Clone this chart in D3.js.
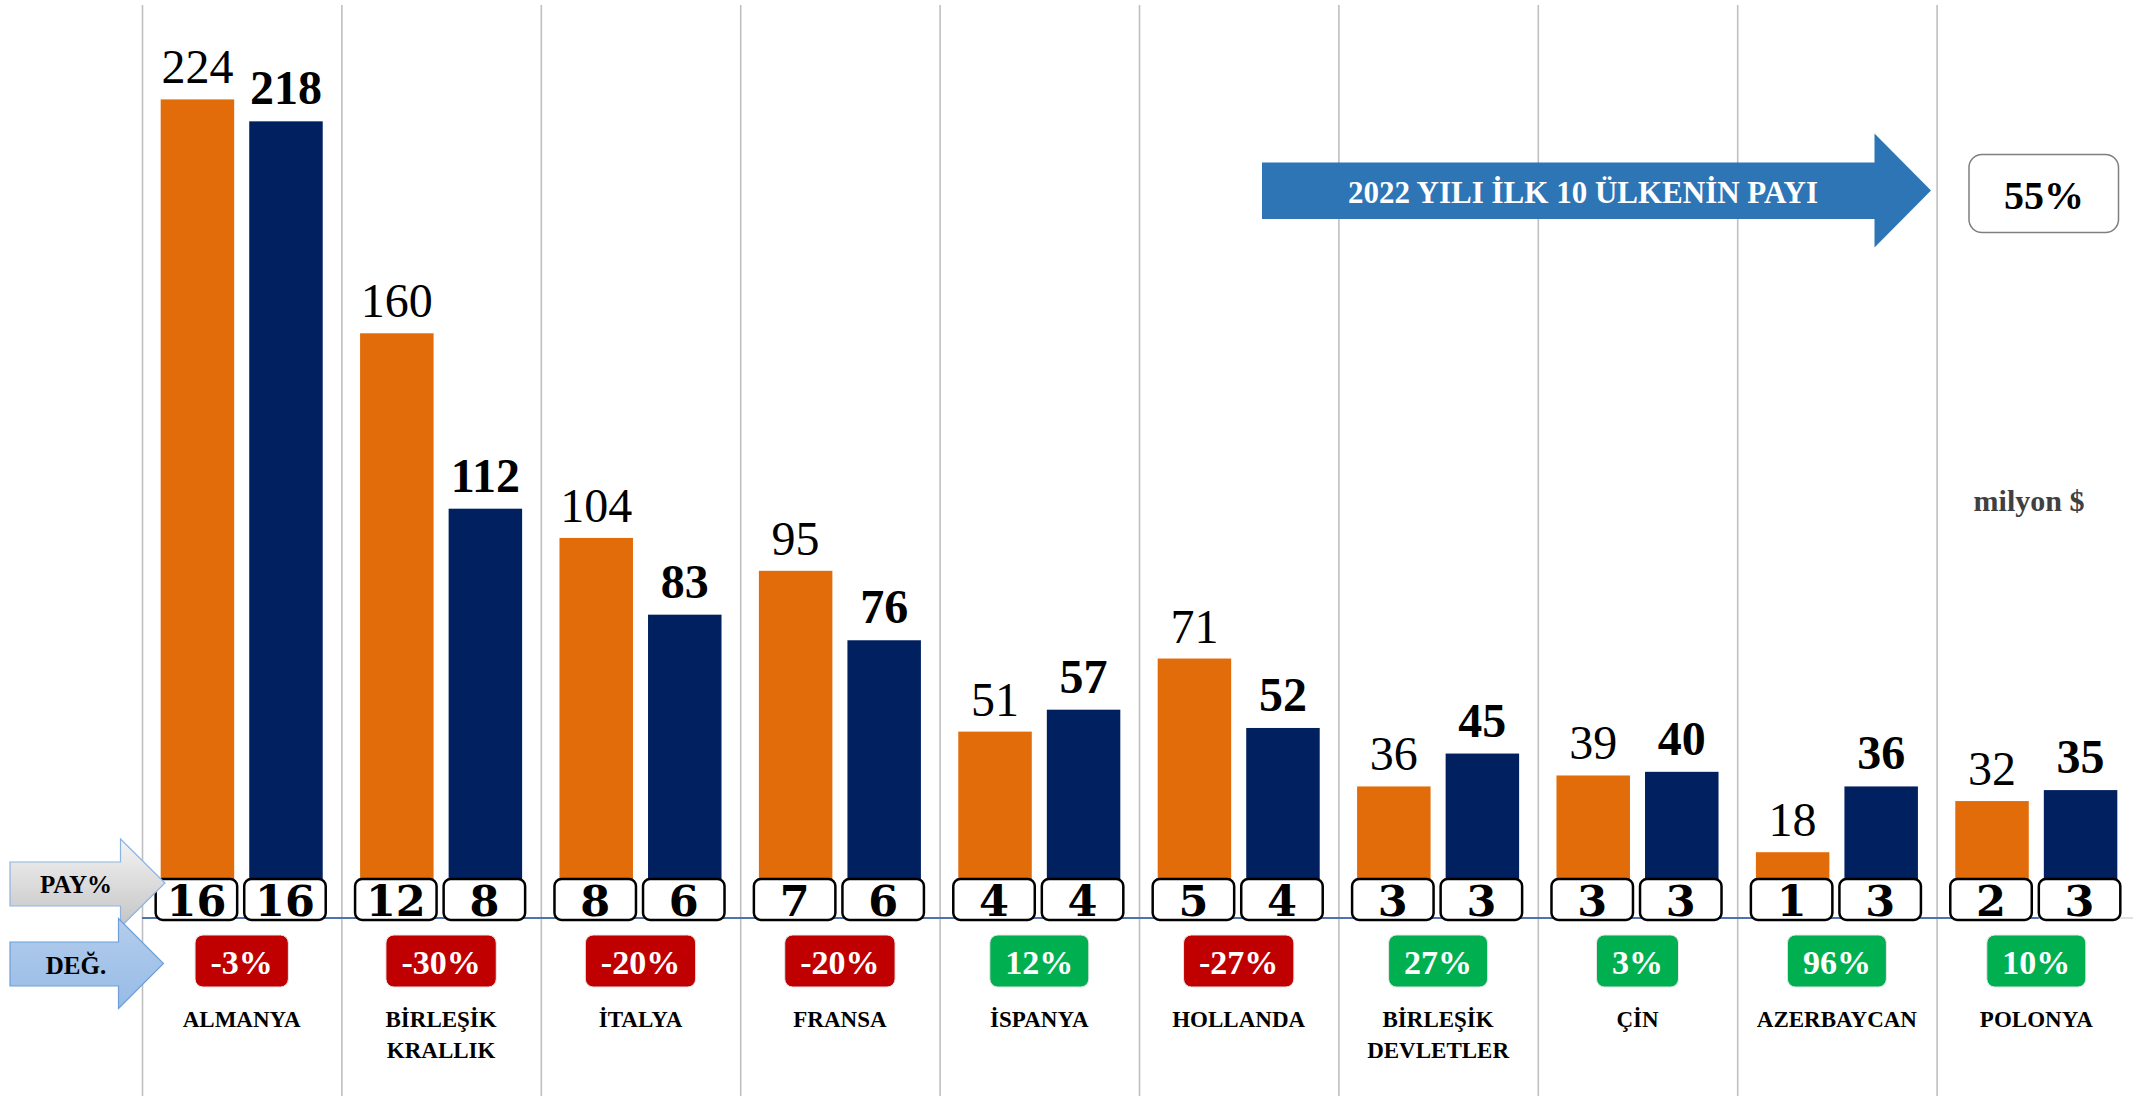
<!DOCTYPE html>
<html>
<head>
<meta charset="utf-8">
<script src="https://cdn.jsdelivr.net/npm/d3@7"></script>
<style>
  body { margin: 0; background: #fff; }
  svg { display: block; }
  text { font-family: "Liberation Serif", "Times New Roman", serif; }
</style>
</head>
<body>
<svg id="chart" width="2133" height="1096"></svg>
<script>
// data (milyon $)
var countries = ["ALMANYA", "BİRLEŞİK\nKRALLIK", "İTALYA", "FRANSA", "İSPANYA", "HOLLANDA", "BİRLEŞİK\nDEVLETLER", "ÇİN", "AZERBAYCAN", "POLONYA"];
var values2021 = [224, 160, 104, 95, 51, 71, 36, 39, 18, 32];
var values2022 = [218, 112, 83, 76, 57, 52, 45, 40, 36, 35];
var share2021 = [16, 12, 8, 7, 4, 5, 3, 3, 1, 2];
var share2022 = [16, 8, 6, 6, 4, 4, 3, 3, 3, 3];
var changePct = [-3, -30, -20, -20, 12, -27, 27, 3, 96, 10];
var top10Share = "55%";
var bannerText = "2022 YILI İLK 10 ÜLKENİN PAYI";
var unitText = "milyon $";

var W = 2133, H = 1096;
var baseY = 918;

var svg = d3.select("#chart");

var rows = countries.map(function(c, i){
	return {country: c, v21: values2021[i], v22: values2022[i], s21: share2021[i], s22: share2022[i], chg: changePct[i]};
});

var x = d3.scaleBand()
	.domain(countries)
	.range([142, 2136])
	.paddingInner(0)
	.paddingOuter(0);

var xSub = d3.scaleBand()
	.domain(["v21", "v22"])
	.range([0, x.bandwidth()])
	.paddingInner(0.17)
	.paddingOuter(0.211);

var y = d3.scaleLinear()
	.domain([0, 251.2])
	.range([baseY, 0]);

var colors = {v21: "#e36c0a", v22: "#002060"};

// vertical separators
svg.append("g").selectAll("line")
	.data(countries)
	.enter()
	.append("line")
	.attr("x1", d => x(d) + 0.5)
	.attr("x2", d => x(d) + 0.5)
	.attr("y1", 5)
	.attr("y2", H)
	.style("stroke", "#bfbfbf")
	.style("stroke-width", 1.6);

// baseline
svg.append("line")
	.attr("x1", x.range()[0]).attr("x2", W)
	.attr("y1", baseY).attr("y2", baseY)
	.style("stroke", "#d9d9d9").style("stroke-width", 1.5);
svg.append("line")
	.attr("x1", x.range()[0]).attr("x2", x(countries[9]) + xSub("v21") + xSub.bandwidth() + 10)
	.attr("y1", baseY).attr("y2", baseY)
	.style("stroke", "#4f74ad").style("stroke-width", 2.2);

var groups = svg.append("g").selectAll("g")
	.data(rows)
	.enter()
	.append("g")
	.attr("transform", d => "translate(" + x(d.country) + ",0)");

["v21", "v22"].forEach(function(key){
	// bars
	groups.append("rect")
		.attr("x", xSub(key))
		.attr("y", d => y(d[key]))
		.attr("width", xSub.bandwidth())
		.attr("height", d => baseY - y(d[key]))
		.attr("fill", colors[key]);

	// value labels
	groups.append("text")
		.attr("x", xSub(key) + xSub.bandwidth() / 2)
		.attr("y", d => y(d[key]) - (key == "v21" ? 16 : 17))
		.attr("text-anchor", "middle")
		.style("font-size", "48px")
		.style("font-weight", key == "v21" ? "normal" : "bold")
		.style("fill", "#000")
		.text(d => d[key]);

	// share boxes (PAY%)
	var sKey = key == "v21" ? "s21" : "s22";
	groups.append("rect")
		.attr("x", xSub(key) - 5)
		.attr("y", 879)
		.attr("width", xSub.bandwidth() + 8)
		.attr("height", 41)
		.attr("rx", 7)
		.attr("fill", "#fff")
		.style("stroke", "#000")
		.style("stroke-width", 2.5);
	groups.append("text")
		.attr("x", xSub(key) - 1 + xSub.bandwidth() / 2)
		.attr("y", 916)
		.attr("text-anchor", "middle")
		.style("font-family", "'DejaVu Serif', serif")
		.style("font-size", "43px")
		.style("font-weight", "bold")
		.text(d => d[sKey]);
});

// change badges (DEĞ.)
groups.each(function(d){
	var g = d3.select(this);
	var cx = x.bandwidth() / 2;
	var t = g.append("text")
		.attr("x", cx)
		.attr("y", 974)
		.attr("text-anchor", "middle")
		.style("font-size", "34px")
		.style("font-weight", "bold")
		.style("fill", "#fff")
		.text(d.chg + "%");
	var w = t.node().getComputedTextLength() + 31;
	g.insert("rect", "text:last-of-type")
		.attr("x", cx - w / 2)
		.attr("y", 935)
		.attr("width", w)
		.attr("height", 52)
		.attr("rx", 8)
		.attr("fill", d.chg < 0 ? "#c00000" : "#00b050")
		.style("stroke", "#e6e6e6")
		.style("stroke-width", 1);
	t.raise();
});

// country names
groups.append("text")
	.attr("text-anchor", "middle")
	.style("font-size", "23px")
	.style("font-weight", "bold")
	.style("fill", "#000")
	.selectAll("tspan")
	.data(d => d.country.split("\n"))
	.enter()
	.append("tspan")
	.attr("x", x.bandwidth() / 2)
	.attr("y", (d, i) => 1027 + i * 31)
	.text(d => d);

// left block arrows
var defs = svg.append("defs");
var gGray = defs.append("linearGradient").attr("id", "grayGrad").attr("x1", 0).attr("y1", 0).attr("x2", 0).attr("y2", 1);
gGray.append("stop").attr("offset", "0%").attr("stop-color", "#f4f4f4");
gGray.append("stop").attr("offset", "100%").attr("stop-color", "#c4c4c4");
var gBlue = defs.append("linearGradient").attr("id", "blueGrad").attr("x1", 0).attr("y1", 0).attr("x2", 0).attr("y2", 1);
gBlue.append("stop").attr("offset", "0%").attr("stop-color", "#b3cdec");
gBlue.append("stop").attr("offset", "100%").attr("stop-color", "#97bbe6");

function blockArrow(x0, x1, xTip, bodyTop, bodyBot, headTop, headBot){
	var p = d3.path();
	var midY = (headTop + headBot) / 2;
	p.moveTo(x0, bodyTop);
	p.lineTo(x1, bodyTop);
	p.lineTo(x1, headTop);
	p.lineTo(xTip, midY);
	p.lineTo(x1, headBot);
	p.lineTo(x1, bodyBot);
	p.lineTo(x0, bodyBot);
	p.closePath();
	return p.toString();
}

svg.append("path")
	.attr("d", blockArrow(10, 120.5, 165, 862, 906, 839, 927))
	.attr("fill", "url(#grayGrad)")
	.style("stroke", "#8db3e2").style("stroke-width", 1.2);
svg.append("text")
	.attr("x", 76).attr("y", 893)
	.attr("text-anchor", "middle")
	.style("font-size", "25px").style("font-weight", "bold")
	.text("PAY%");

svg.append("path")
	.attr("d", blockArrow(10, 118.5, 163.5, 942, 986, 918.5, 1008.5))
	.attr("fill", "url(#blueGrad)")
	.style("stroke", "#6f9fd8").style("stroke-width", 1.2);
svg.append("text")
	.attr("x", 76).attr("y", 974)
	.attr("text-anchor", "middle")
	.style("font-size", "25px").style("font-weight", "bold")
	.text("DEĞ.");

// top banner arrow
svg.append("path")
	.attr("d", blockArrow(1262, 1874.5, 1931, 162.5, 219, 133.5, 247.5))
	.attr("fill", "#2e75b6");
svg.append("text")
	.attr("x", 1583).attr("y", 202.5)
	.attr("text-anchor", "middle")
	.style("font-size", "31px").style("font-weight", "bold")
	.style("fill", "#fff")
	.text(bannerText);

svg.append("rect")
	.attr("x", 1969).attr("y", 154.5)
	.attr("width", 149.5).attr("height", 78)
	.attr("rx", 13)
	.attr("fill", "#fff")
	.style("stroke", "#7f7f7f").style("stroke-width", 1.5);
svg.append("text")
	.attr("x", 2044).attr("y", 209)
	.attr("text-anchor", "middle")
	.style("font-size", "40px").style("font-weight", "bold")
	.text(top10Share);

svg.append("text")
	.attr("x", 2029).attr("y", 510.5)
	.attr("text-anchor", "middle")
	.style("font-size", "30px").style("font-weight", "bold")
	.style("fill", "#404040")
	.text(unitText);
</script>
</body>
</html>
